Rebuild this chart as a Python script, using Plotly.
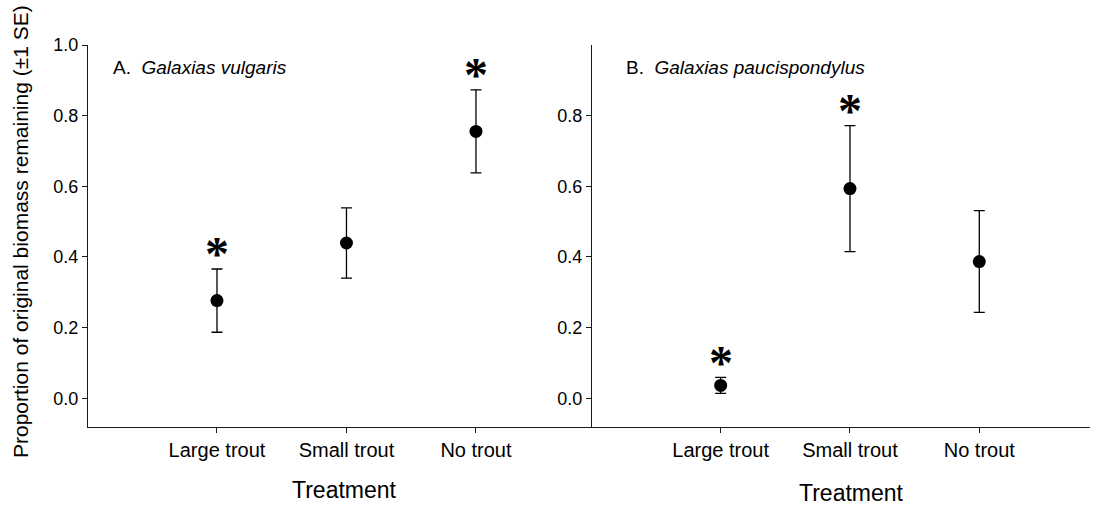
import plotly.graph_objects as go

W, H = 1101, 505

categories = ["Large trout", "Small trout", "No trout"]

# Panel A: Galaxias vulgaris
a_mean = [0.2765, 0.4395, 0.7555]
a_se = [0.0895, 0.0995, 0.1175]
a_sig = [True, False, True]

# Panel B: Galaxias paucispondylus
b_mean = [0.0365, 0.5935, 0.387]
b_se = [0.0225, 0.1785, 0.144]
b_sig = [True, True, False]

a_yticks = [0.0, 0.2, 0.4, 0.6, 0.8, 1.0]
b_yticks = [0.0, 0.2, 0.4, 0.6, 0.8]

FONT = "Liberation Sans, Arial, sans-serif"
STAR_OFFSET = 0.06

def px(x):
    return x / W

def py(y):
    return 1 - y / H

fig = go.Figure()

xpos = [0, 1, 2]
for mean, se, xa, ya in [(a_mean, a_se, "x", "y"), (b_mean, b_se, "x2", "y2")]:
    fig.add_trace(go.Scatter(
        x=xpos, y=mean, mode="markers",
        marker=dict(size=13, color="black", symbol="circle"),
        error_y=dict(type="data", array=se, visible=True, color="black",
                     thickness=1.3, width=5.5),
        xaxis=xa, yaxis=ya, showlegend=False, hoverinfo="skip",
    ))

ydom = [py(426.7), py(45)]
yr = [-0.0804, 1.0]

axis_common = dict(
    showgrid=False, zeroline=False, showline=True, linecolor="#1a1a1a",
    linewidth=1.3, ticks="outside", ticklen=5, tickwidth=1.2, tickcolor="#1a1a1a",
    color="black", automargin=False,
)

fig.update_layout(
    width=W, height=H,
    autosize=False,
    margin=dict(l=0, r=0, t=0, b=0, pad=0, autoexpand=False),
    paper_bgcolor="white", plot_bgcolor="white",
    font=dict(family=FONT, color="black"),
    showlegend=False,
    xaxis=dict(domain=[px(88), px(592)], range=[-0.996, 2.896],
               tickvals=xpos, ticktext=categories, tickfont=dict(size=20),
               anchor="y", **axis_common),
    yaxis=dict(domain=ydom, range=yr, tickvals=a_yticks,
               ticktext=[f"{v:.1f}" for v in a_yticks], tickfont=dict(size=18),
               anchor="x", **axis_common),
    xaxis2=dict(domain=[px(592), px(1090)], range=[-0.995, 2.856],
                tickvals=xpos, ticktext=categories, tickfont=dict(size=20),
                anchor="y2", **axis_common),
    yaxis2=dict(domain=ydom, range=yr, tickvals=b_yticks,
                ticktext=[f"{v:.1f}" for v in b_yticks], tickfont=dict(size=18),
                anchor="x2", **axis_common),
)

annotations = []
# significance asterisks
for mean, se, sig, xr, yr_ in [(a_mean, a_se, a_sig, "x", "y"), (b_mean, b_se, b_sig, "x2", "y2")]:
    for i, s in enumerate(sig):
        if s:
            annotations.append(dict(
                x=xpos[i], y=mean[i] + se[i] + STAR_OFFSET, xref=xr, yref=yr_,
                text="<b>*</b>", showarrow=False, yanchor="middle", xanchor="center",
                yshift=-6,
                font=dict(family="Liberation Serif, Times New Roman, serif", size=48, color="black"),
            ))

# panel labels
annotations.append(dict(x=px(111), y=py(67.5), xref="paper", yref="paper",
                        text="A.\u00a0\u00a0<i>Galaxias vulgaris</i>", showarrow=False,
                        xanchor="left", yanchor="middle", font=dict(size=19)))
annotations.append(dict(x=px(624), y=py(67.5), xref="paper", yref="paper",
                        text="B.\u00a0\u00a0<i>Galaxias paucispondylus</i>", showarrow=False,
                        xanchor="left", yanchor="middle", font=dict(size=19)))

# axis titles
annotations.append(dict(x=px(344), y=py(490), xref="paper", yref="paper",
                        text="Treatment", showarrow=False, xanchor="center",
                        yanchor="middle", font=dict(size=23)))
annotations.append(dict(x=px(851), y=py(493), xref="paper", yref="paper",
                        text="Treatment", showarrow=False, xanchor="center",
                        yanchor="middle", font=dict(size=23)))
annotations.append(dict(x=px(21), y=py(232), xref="paper", yref="paper",
                        text="Proportion of original biomass remaining (±1 SE)",
                        showarrow=False, textangle=-90, xanchor="center",
                        yanchor="middle", font=dict(size=21)))

fig.update_layout(annotations=annotations)

fig.write_html("out.html")
